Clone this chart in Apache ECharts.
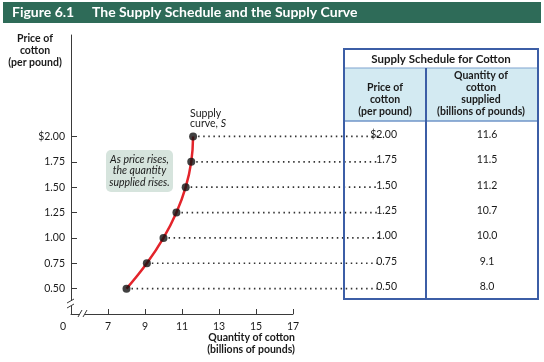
<!DOCTYPE html>
<html><head><meta charset="utf-8">
<script src="https://cdn.jsdelivr.net/npm/echarts@6/dist/echarts.min.js"></script>
<style>html,body{margin:0;padding:0;background:#fff}#c{width:544px;height:362px}</style>
</head><body><div id="c"></div>
<script>
const prices = [0.50, 0.75, 1.00, 1.25, 1.50, 1.75, 2.00];
const quantities = [8.0, 9.1, 10.0, 10.7, 11.2, 11.5, 11.6];
const priceLabels = ['0.50', '0.75', '1.00', '1.25', '1.50', '1.75', '$2.00'];
const quantityLabels = ['8.0', '9.1', '10.0', '10.7', '11.2', '11.5', '11.6'];
const xTickValues = [7, 9, 11, 13, 15, 17];
const yTickValues = [0.50, 0.75, 1.00, 1.25, 1.50, 1.75, 2.00];

const FONT = 'Lato';
const AX = '#3a3a3a';
const TXT = '#1a1a1a';
const BLUE = '#3c5ea6';
const chart = echarts.init(document.getElementById('c'), null, {renderer: 'canvas'});
const pts = quantities.map((q, i) => [q, prices[i]]);

chart.setOption({
  animation: false,
  grid: {left: 71, right: 251, top: 35, bottom: 48},
  xAxis: {
    type: 'value', min: 5, max: 17,
    axisLine: {lineStyle: {color: AX, width: 1}},
    axisTick: {customValues: xTickValues, inside: true, length: 5, lineStyle: {color: AX}},
    axisLabel: {
      customValues: [5].concat(xTickValues),
      formatter: v => v === 5 ? '{z|0}' : String(v),
      color: TXT, fontFamily: FONT, fontSize: 10.5, margin: 7,
      rich: {z: {padding: [0, 16, 0, 0], fontFamily: FONT, fontSize: 10.5, color: TXT}}
    },
    splitLine: {show: false}
  },
  yAxis: {
    type: 'value', min: 0.25, max: 3.0,
    axisLine: {show: true, lineStyle: {color: AX, width: 1}},
    axisTick: {show: true, customValues: yTickValues, inside: true, length: 6, lineStyle: {color: AX}},
    axisLabel: {
      customValues: yTickValues,
      formatter: v => Math.abs(v - 2) < 1e-9 ? '$2.00' : v.toFixed(2),
      color: TXT, fontFamily: FONT, fontSize: 10.5, margin: 6
    },
    splitLine: {show: false}
  },
  series: [
    {type: 'line', data: pts, smooth: 0.45, symbol: 'none', z: 3,
     lineStyle: {color: '#e3242b', width: 2.5}},
    {type: 'scatter', data: pts, symbolSize: 8, z: 5,
     itemStyle: {color: '#111'}}
  ]
});

function build() {
  const g = [];
  // title bar
  g.push({type: 'rect', shape: {x: 3, y: 2, width: 538, height: 21}, style: {fill: '#2e6b58'}});
  g.push({type: 'text', x: 12, y: 12.5, style: {text: 'Figure 6.1', fill: '#fff', font: 'bold 14px ' + FONT, verticalAlign: 'middle'}});
  g.push({type: 'text', x: 92, y: 12.5, style: {text: 'The Supply Schedule and the Supply Curve', fill: '#fff', font: 'bold 14px ' + FONT, verticalAlign: 'middle'}});
  // axis titles
  g.push({type: 'text', x: 35, y: 33, style: {text: 'Price of\ncotton\n(per pound)', fill: TXT, font: 'bold 10.5px ' + FONT, align: 'center', lineHeight: 12}});
  g.push({type: 'text', x: 295, y: 332, style: {text: 'Quantity of cotton\n(billions of pounds)', fill: TXT, font: 'bold 10.5px ' + FONT, align: 'right', lineHeight: 12}});

  // leader dotted lines from points into table
  const leaderEnd = 379;
  pts.forEach(p => {
    const px = chart.convertToPixel({xAxisIndex: 0, yAxisIndex: 0}, p);
    g.push({type: 'line', z: 1, shape: {x1: px[0] + 5, y1: px[1], x2: leaderEnd, y2: px[1]},
      style: {stroke: '#333', lineWidth: 1.7, lineDash: [1.5, 3.6]}});
  });

  // axis breaks
  const o = chart.convertToPixel({xAxisIndex: 0, yAxisIndex: 0}, [5, 0.25]);
  const ox = o[0], oy = o[1];
  g.push({type: 'rect', z: 10, shape: {x: ox - 3, y: oy - 13, width: 6, height: 5}, style: {fill: '#fff'}});
  g.push({type: 'line', z: 11, shape: {x1: ox - 4, y1: oy - 11, x2: ox + 3, y2: oy - 15}, style: {stroke: AX, lineWidth: 1}});
  g.push({type: 'line', z: 11, shape: {x1: ox - 4, y1: oy - 6, x2: ox + 3, y2: oy - 10}, style: {stroke: AX, lineWidth: 1}});
  g.push({type: 'rect', z: 10, shape: {x: ox + 9, y: oy - 3, width: 5, height: 6}, style: {fill: '#fff'}});
  g.push({type: 'line', z: 11, shape: {x1: ox + 7, y1: oy + 3, x2: ox + 11, y2: oy - 4}, style: {stroke: AX, lineWidth: 1}});
  g.push({type: 'line', z: 11, shape: {x1: ox + 12, y1: oy + 3, x2: ox + 16, y2: oy - 4}, style: {stroke: AX, lineWidth: 1}});

  // supply curve label
  const top = chart.convertToPixel({xAxisIndex: 0, yAxisIndex: 0}, pts[pts.length - 1]);
  g.push({type: 'text', x: top[0] - 3, y: top[1] - 28, style: {
    text: 'Supply\ncurve, {i|S}', fill: TXT, font: '10.5px ' + FONT, lineHeight: 10,
    rich: {i: {fontStyle: 'italic', fontFamily: FONT, fontSize: 10.5, fill: TXT}}}});

  // annotation box
  g.push({type: 'rect', shape: {x: 106, y: 150, width: 67, height: 42, r: 5}, style: {fill: '#d6e4dd'}});
  g.push({type: 'text', x: 139.5, y: 171, style: {text: 'As price rises,\nthe quantity\nsupplied rises.', fill: TXT,
    font: 'italic 10.5px ' + FONT, align: 'center', verticalAlign: 'middle', lineHeight: 11.5}});

  // table
  const tL = 344, tR = 538, tT = 49, tB = 299, colX = 426, hT = 68, hB = 121;
  g.push({type: 'rect', z: 0, shape: {x: tL, y: hT, width: tR - tL, height: hB - hT}, style: {fill: '#d3eaf2'}});
  g.push({type: 'line', z: 2, shape: {x1: tL, y1: hT, x2: tR, y2: hT}, style: {stroke: '#7fa3cf', lineWidth: 1}});
  g.push({type: 'line', z: 2, shape: {x1: tL, y1: hB, x2: tR, y2: hB}, style: {stroke: '#6f95c8', lineWidth: 1.5}});
  g.push({type: 'line', z: 2, shape: {x1: colX, y1: hT, x2: colX, y2: tB}, style: {stroke: BLUE, lineWidth: 2}});
  g.push({type: 'rect', z: 3, shape: {x: tL, y: tT, width: tR - tL, height: tB - tT}, style: {fill: 'none', stroke: BLUE, lineWidth: 2}});
  g.push({type: 'text', x: (tL + tR) / 2, y: 59, style: {text: 'Supply Schedule for Cotton', fill: TXT, font: 'bold 11.5px ' + FONT, align: 'center', verticalAlign: 'middle'}});
  g.push({type: 'text', x: 385, y: 118, style: {text: 'Price of\ncotton\n(per pound)', fill: TXT, font: 'bold 10.5px ' + FONT, align: 'center', verticalAlign: 'bottom', lineHeight: 12}});
  g.push({type: 'text', x: 481, y: 118, style: {text: 'Quantity of\ncotton\nsupplied\n(billions of pounds)', fill: TXT, font: 'bold 10.5px ' + FONT, align: 'center', verticalAlign: 'bottom', lineHeight: 12}});
  prices.forEach((p, i) => {
    const py = chart.convertToPixel({yAxisIndex: 0}, p) - 2;
    g.push({type: 'text', z: 4, x: 397, y: py, style: {text: priceLabels[i], fill: TXT, font: '10.5px ' + FONT, align: 'right', verticalAlign: 'middle'}});
    g.push({type: 'text', z: 4, x: 487, y: py, style: {text: quantityLabels[i], fill: TXT, font: '10.5px ' + FONT, align: 'center', verticalAlign: 'middle'}});
  });
  return g;
}
chart.setOption({graphic: build()});
</script>
</body></html>
